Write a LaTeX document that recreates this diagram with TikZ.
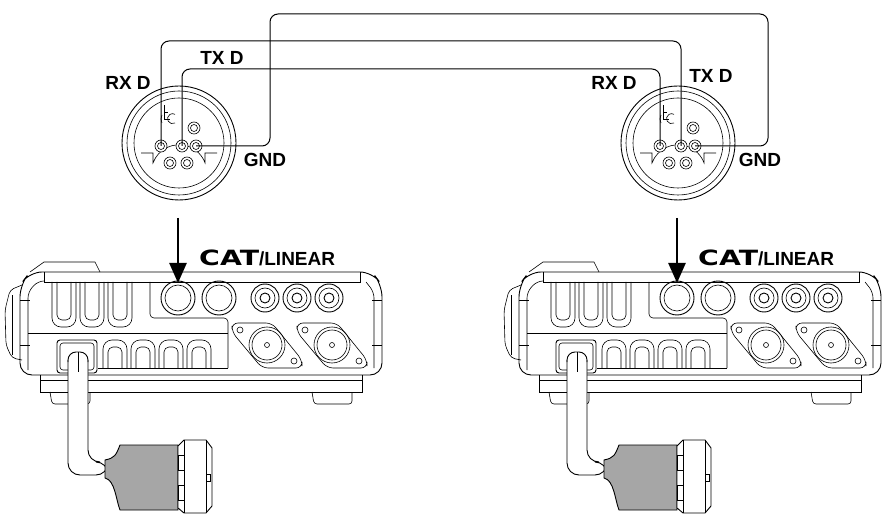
\documentclass[tikz,border=0pt]{standalone}
\usepackage{fontspec}
\setmainfont{Liberation Sans}
\newfontfamily\catfont{DejaVu Sans}
\usetikzlibrary{arrows.meta}
\tikzset{
  ln/.style={line width=0.9pt},
  th/.style={line width=0.6pt},
  wire/.style={line width=1pt,rounded corners=8pt},
  lab/.style={font=\bfseries\fontsize{19}{19}\selectfont,inner sep=0pt},
  catlab/.style={font=\bfseries\fontsize{19}{19}\selectfont,inner sep=0pt,anchor=west},
  pin/.style={th,fill=white},
  pics/conn/.style={code={
    \draw[ln] (0,0) circle (57);
    \draw[th] (0,0) circle (52);
    \draw[th] (0,0) circle (45);
    \draw[th] (-38,10)--(-26,10)--(-26,20) arc(200:340:27.7) -- (26,10)--(38,10);
    \draw[th] (-15,-38)--(-15,-24) (-15,-31)--(-11,-31) (-15,-24)--(-9,-24);
    \draw[th] (-17,-20) arc(150:210:8);
    \draw[th] (-4,-20) arc(60:300:5);
    \foreach \p in {(-18,3),(3,3),(17,3),(-9,20),(8,20),(15,-15)}{
      \draw[pin] \p circle (6); \draw[th] \p circle (3.5);}
  }},
  pics/radio/.style={code={
    \draw[th,rounded corners=4pt] (22,285)--(10,290)--(5,310)--(6,345)--(12,358)--(22,360);
    \draw[th] (12,295)--(12,355);
    \draw[th] (30,272)--(44,262)--(95,262)--(100,272);
    \draw[ln,rounded corners=12pt] (20,375)--(20,285)--(30,272)--(372,272)--(382,285)--(382,375)--cycle;
    \draw[th,rounded corners=6pt] (28,370)--(28,292)--(38,281)--(44,281);
    \draw[th] (44,272)--(44,282)--(360,282)--(360,272);
    \draw[th,rounded corners=6pt] (366,282)--(374,292)--(374,368);
    \draw[th] (20,300)--(30,300) (372,300)--(382,300) (20,345)--(30,345) (372,345)--(382,345);
    \draw[th,rounded corners=4pt] (150,282)--(150,318)--(228,318)--(228,368);
    \draw[th] (28,333)--(228,333);
    \foreach \x in {52,80,108}{
      \draw[th,rounded corners=9pt] (\x,282)--(\x,327)--(\x+24,327)--(\x+24,282);
      \draw[th,rounded corners=5pt] (\x+5,282)--(\x+5,320)--(\x+19,320)--(\x+19,282);}
    \foreach \x in {103,131,159,187}{
      \draw[th,rounded corners=9pt] (\x,368)--(\x,340)--(\x+24,340)--(\x+24,368);
      \draw[th,rounded corners=5pt] (\x+5,368)--(\x+5,347)--(\x+19,347)--(\x+19,368);}
    \draw[th] (98,368)--(228,368);
    \foreach \x in {178,219}{\draw[ln] (\x,298) circle (17); \draw[th] (\x,298) circle (13);}
    \foreach \x in {265,297,329}{\draw[ln] (\x,298) circle (14); \draw[th] (\x,298) circle (10); \draw[ln] (\x,298) circle (5);}
    \foreach \x in {267,332}{
      \draw[th,rounded corners=6pt] (\x-35,323)--(\x+5,323)--(\x+35,360)--(\x+35,368)--(\x-5,368)--(\x-35,332)--cycle;
      \draw[th] (\x,345) circle (18); \draw[th] (\x,345) circle (15); \draw[th] (\x,345) circle (2.5);
      \draw[th] (\x-27,330) circle (3); \draw[th] (\x+27,361) circle (3);}
    \draw[ln] (40,375)--(40,392)--(362,392)--(362,375);
    \draw[th] (40,380)--(362,380);
    \draw[th,rounded corners=3pt] (50,392)--(52,404)--(90,404)--(90,392);
    \draw[th,rounded corners=3pt] (312,392)--(314,404)--(352,404)--(352,392);
    \draw[ln,rounded corners=3pt] (57,340) rectangle (97,373);
    \draw[th,rounded corners=3pt] (60,343) rectangle (94,370);
    \draw[ln,fill=white,rounded corners=12pt] (68,360)--(68,475)--(108,475)--(108,462)--(88,462)--(88,360);
    \draw[th] (78,352)--(78,372);
    \draw[ln,rounded corners=8pt] (68,362)--(68,352)--(88,352)--(88,362);
    \draw[ln,fill=gray!70] (105,460)--(105,478) .. controls (115,480) and (116,500) .. (120,510)--(178,510)--(178,445)--(120,445) .. controls (116,455) and (115,458) .. (105,460)--cycle;
    \draw[ln,fill=white] (178,446)--(184,440)--(206,440)--(212,448)--(212,506)--(206,513)--(184,513)--(178,508)--cycle;
    \draw[th] (184,440)--(184,513) (206,440)--(206,513);
    \draw[th] (178,455) rectangle (184,470) (178,485) rectangle (184,500) (206,474) rectangle (210,481);
  }}
}
\begin{document}
\begin{tikzpicture}[x=1pt,y=-1pt]
\useasboundingbox (0,0) rectangle (893,518);
\pic at (179,143) {conn};
\pic at (678,143) {conn};
\coordinate (lrx) at (161,146); \coordinate (ltx) at (182,146); \coordinate (lgnd) at (196,146);
\coordinate (rrx) at (660,146); \coordinate (rtx) at (681,146); \coordinate (rgnd) at (695,146);
\draw[wire] (lgnd) -- (270,146) -- (270,14) -- (768,14) -- (768,146) -- (rgnd);
\draw[wire] (lrx) -- (161,41) -- (681,41) -- (rtx);
\draw[wire] (ltx) -- (182,69) -- (660,69) -- (rrx);
\node[lab] (l1) at (128,83) {RX D};
\node[lab] (l2) at (222,58) {TX D};
\node[lab] (l3) at (265,160) {GND};
\node[lab] (r1) at (614,83) {RX D};
\node[lab] (r2) at (711,76) {TX D};
\node[lab] (r3) at (760,160) {GND};
\pic at (0,0) {radio};
\pic at (499,0) {radio};
\coordinate (a1) at (178,218); \coordinate (a2) at (178,283);
\coordinate (b1) at (677,218); \coordinate (b2) at (677,283);
\draw[line width=2.5pt,-{Triangle[length=20pt,width=17pt]}] (a1)--(a2);
\draw[line width=2.5pt,-{Triangle[length=20pt,width=17pt]}] (b1)--(b2);
\node[catlab] (c1) at (199,258) {\scalebox{1.35}[1]{\catfont\fontsize{21}{21}\selectfont CAT}/LINEAR};
\node[catlab] (c2) at (698,258) {\scalebox{1.35}[1]{\catfont\fontsize{21}{21}\selectfont CAT}/LINEAR};
\end{tikzpicture}
\end{document}
